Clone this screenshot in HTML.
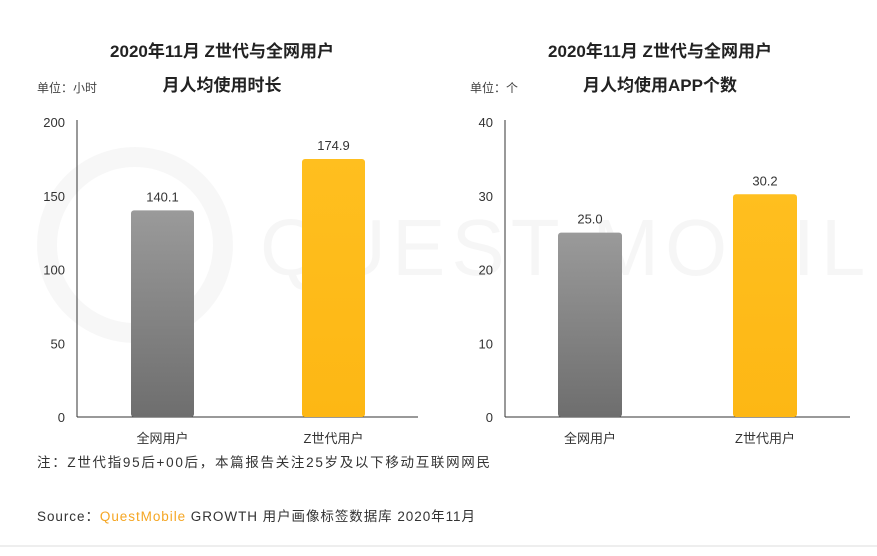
<!DOCTYPE html>
<html><head><meta charset="utf-8"><style>
body{margin:0;width:877px;height:551px;background:#fff;overflow:hidden;font-family:"Liberation Sans","Noto Sans CJK SC",sans-serif}
</style></head><body>
<svg id="svg" width="877" height="551" xmlns="http://www.w3.org/2000/svg" font-family="Liberation Sans, Noto Sans CJK SC, sans-serif">
<defs>
<linearGradient id="gg" x1="0" y1="0" x2="0" y2="1"><stop offset="0" stop-color="#9a9a9a"/><stop offset="1" stop-color="#6e6e6e"/></linearGradient>
<linearGradient id="yg" x1="0" y1="0" x2="0" y2="1"><stop offset="0" stop-color="#ffbf1f"/><stop offset="1" stop-color="#fdb714"/></linearGradient>
</defs>
<g opacity="0.03">
<circle cx="135" cy="245" r="88" fill="none" stroke="#000" stroke-width="20"/>
<text x="260" y="275" font-size="80" fill="#000" letter-spacing="6">QUEST MOBILE</text>
</g>
<text x="222" y="57" font-size="17" font-weight="bold" text-anchor="middle" fill="#222">2020年11月 Z世代与全网用户</text>
<text x="222" y="91" font-size="17" font-weight="bold" text-anchor="middle" fill="#222">月人均使用时长</text>
<text x="37" y="92" font-size="12" fill="#444">单位：小时</text>
<text x="660" y="57" font-size="17" font-weight="bold" text-anchor="middle" fill="#222">2020年11月 Z世代与全网用户</text>
<text x="660" y="91" font-size="17" font-weight="bold" text-anchor="middle" fill="#222">月人均使用APP个数</text>
<text x="470" y="92" font-size="12" fill="#444">单位：个</text>
<text x="37" y="467" font-size="13.5" fill="#333" textLength="453" lengthAdjust="spacing">注：Z世代指95后+00后，本篇报告关注25岁及以下移动互联网网民</text>
<text x="37" y="521" font-size="13.5" fill="#333" textLength="438" lengthAdjust="spacing">Source：<tspan fill="#f5a623">QuestMobile</tspan> GROWTH 用户画像标签数据库 2020年11月</text>
<line x1="0" y1="546" x2="877" y2="546" stroke="#eee" stroke-width="2"/>
</svg>
<script>
const categories=["全网用户","Z世代用户"];
const hoursValues=[140.1,174.9];
const appValues=[25.0,30.2];
const hoursTicks=[0,50,100,150,200];
const appTicks=[0,10,20,30,40];
const svg=document.getElementById('svg');
const NS="http://www.w3.org/2000/svg";
function mk(t,a,txt){const e=document.createElementNS(NS,t);for(const k in a)e.setAttribute(k,a[k]);if(txt!==undefined)e.textContent=txt;svg.appendChild(e);return e;}
function chart(pfx,ax,axEnd,barX,barW,vals,ticks,max){
 const y0=417,yTop=122;
 const y=v=>y0-(v/max)*(y0-yTop);
 ticks.forEach(t=>{const e=mk('text',{x:ax-12,y:y(t)+5,'font-size':13,'text-anchor':'end',fill:'#333'},String(t));
  
  });
 const a=mk('line',{x1:ax,y1:yTop-2,x2:ax,y2:y0,stroke:'#333','stroke-width':1});
 
 
 const b=mk('line',{x1:ax,y1:y0,x2:axEnd,y2:y0,stroke:'#333','stroke-width':1});
 
 
 vals.forEach((v,i)=>{const bx=barX[i];
  const r=mk('rect',{x:bx,y:y(v),width:barW,height:y0-y(v),rx:3,fill:i==0?'url(#gg)':'url(#yg)'});
  
  
  const l=mk('text',{x:bx+barW/2,y:y(v)-9,'font-size':13,'text-anchor':'middle',fill:'#333'},v.toFixed(1));
  
  
  const c=mk('text',{x:bx+barW/2,y:443,'font-size':13,'text-anchor':'middle',fill:'#333'},categories[i]);
  
  });
}
chart('hours',77,418,[131,302],63,hoursValues,hoursTicks,200);
chart('apps',505,850,[558,733],64,appValues,appTicks,40);
</script>
</body></html>
